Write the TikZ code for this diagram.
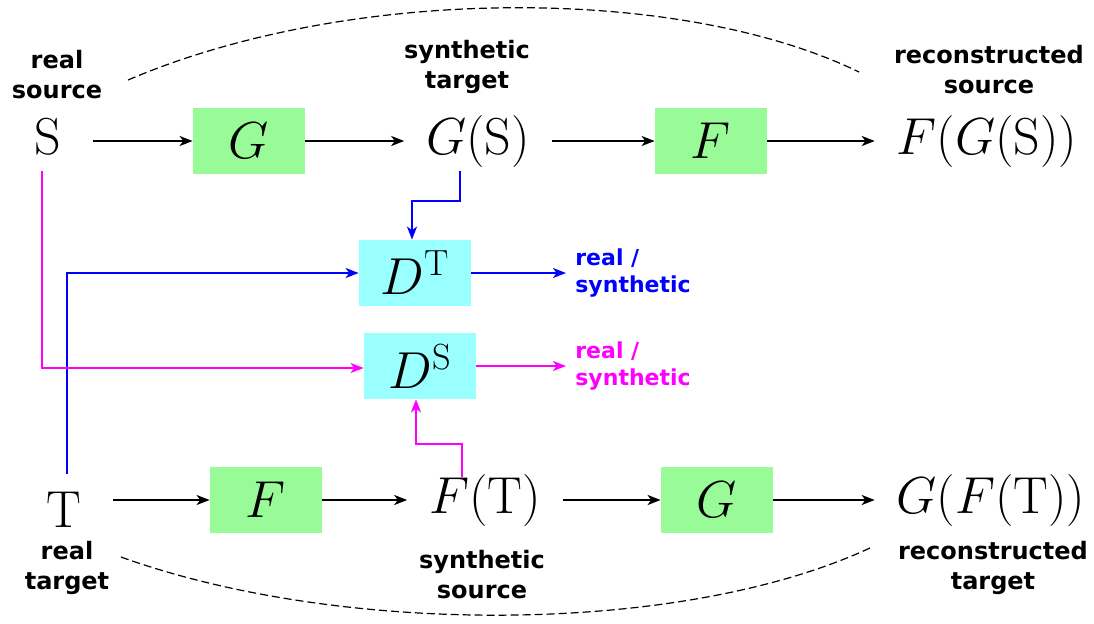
\RequirePackage{fix-cm}
\documentclass[tikz,border=0pt]{standalone}
\usepackage{fontspec}
\newfontfamily\tagfont{DejaVu Sans}
\usetikzlibrary{arrows.meta}
\definecolor{boxgreen}{RGB}{152,251,152}
\definecolor{boxcyan}{RGB}{153,255,255}
\definecolor{realblue}{RGB}{0,0,255}
\definecolor{realpink}{RGB}{255,0,255}

\begin{document}
\begin{tikzpicture}[x=0.5pt,y=-0.5pt,
    box/.style={fill=boxgreen,minimum width=56pt,minimum height=33pt,inner sep=0pt,font=\fontsize{26}{30}\selectfont},
    critic/.style={box,fill=boxcyan},
    term/.style={inner sep=0pt,outer xsep=11pt,outer ysep=2pt,text height=19.5pt,text depth=6.5pt,font=\fontsize{26}{30}\selectfont},
    tag/.style={align=center,font=\tagfont\bfseries\fontsize{12}{15}\selectfont},
    verdict/.style={align=left,inner sep=0pt,font=\tagfont\bfseries\fontsize{11}{13.5}\selectfont},
    flow/.style={-{Stealth[length=6.5pt,width=5pt,inset=1.8pt]},line width=1pt},
    loopline/.style={dash pattern=on 4pt off 2pt,line width=0.6pt}]
    \useasboundingbox (0,0) rectangle (1094,623);

    \node[tag] (srcTag) at (57,75) {real\\source};
    \node[term,outer xsep=16pt] (S) at (48,141) {$\mathrm{S}$};
    \node[box] (G1) at (249,141) {$G$};
    \node[tag] (gsTag) at (467,67) {synthetic\\target};
    \node[term] (GS) at (478,141) {$G(\mathrm{S})$};
    \node[box] (F1) at (711,141) {$F$};
    \node[tag] (fgsTag) at (989,70) {reconstructed\\source};
    \node[term] (FGS) at (987,141) {$F(G(\mathrm{S}))$};

    \node[critic] (DT) at (415,273) {$D^{\mathrm{T}}$};
    \node[critic] (DS) at (420,366) {$D^{\mathrm{S}}$};
    \node[verdict,text=realblue,anchor=west] (dtOut) at (575,273) {real /\\synthetic};
    \node[verdict,text=realpink,anchor=west] (dsOut) at (575,366) {real /\\synthetic};

    \node[term,outer xsep=16pt] (T) at (64,514) {$\mathrm{T}$};
    \node[tag] (tTag) at (67,568) {real\\target};
    \node[box] (F2) at (266,500) {$F$};
    \node[term] (FT) at (485,500) {$F(\mathrm{T})$};
    \node[tag] (ftTag) at (482,575) {synthetic\\source};
    \node[box] (G2) at (717,500) {$G$};
    \node[term] (GFT) at (991,500) {$G(F(\mathrm{T}))$};
    \node[tag] (gftTag) at (993,568) {reconstructed\\target};

    \draw[flow] (S) -- (G1);
    \draw[flow] (G1) -- (GS);
    \draw[flow] (GS) -- (F1);
    \draw[flow] (F1) -- (FGS);
    \draw[flow] (T.east |- F2) -- (F2);
    \draw[flow] (F2) -- (FT);
    \draw[flow] (FT) -- (G2);
    \draw[flow] (G2) -- (GFT);

    \draw[flow,realblue] ([xshift=-9pt]GS.south) -- ++(0,30) -| ([xshift=-1.5pt]DT.north);
    \draw[flow,realblue] ([xshift=1.5pt,yshift=5pt]T.north) |- (DT);
    \draw[flow,realblue] (DT) -- ([xshift=-4.5pt]dtOut.west);
    \draw[flow,realpink] ([xshift=-3pt]S.south) |- ([yshift=-1pt]DS.west);
    \draw[flow,realpink] ([xshift=-11.5pt,yshift=-3.5pt]FT.north) -- ++(0,-33) -| ([xshift=-2pt]DS.south);
    \draw[flow,realpink] (DS) -- ([xshift=-4.5pt]dsOut.west);

    \coordinate (topL) at (128,80);
    \coordinate (topR) at (859,72);
    \coordinate (botL) at (121,557);
    \coordinate (botR) at (870,548);
    \draw[loopline] (topL) .. controls (350,-15) and (680,-15) .. (topR);
    \draw[loopline] (botL) .. controls (340,636) and (680,636) .. (botR);
\end{tikzpicture}
\end{document}
